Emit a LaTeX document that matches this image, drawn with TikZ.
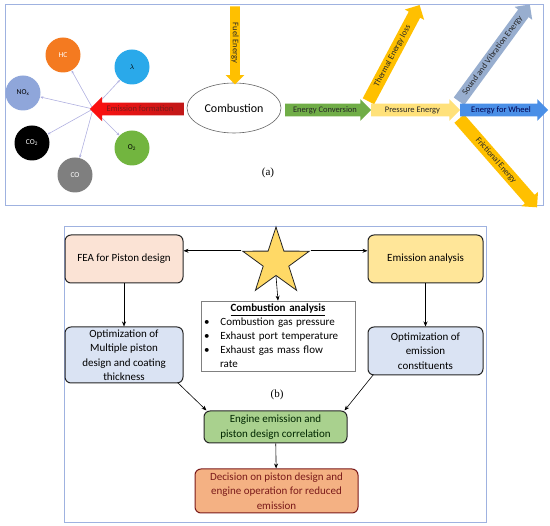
\documentclass[tikz,border=0pt]{standalone}
\usepackage{fontspec}
\setmainfont{Carlito}
\newfontfamily\capfont{Liberation Serif}
\usepackage{xcolor}
\definecolor{cFrame}{HTML}{9FB2E0}
\definecolor{cGold}{HTML}{FFC000}
\definecolor{cLight}{HTML}{FFE17A}
\definecolor{cGreen}{HTML}{70AD47}
\definecolor{cWheel}{HTML}{4A8FE7}
\definecolor{cSound}{HTML}{98AECF}
\definecolor{cRed}{HTML}{FF1010}
\definecolor{cDarkRed}{HTML}{C01818}
\definecolor{cHC}{HTML}{F47A20}
\definecolor{cLam}{HTML}{2AA9EA}
\definecolor{cNOx}{HTML}{8FA6DA}
\definecolor{cCO}{HTML}{7F7F7F}
\definecolor{cOtwo}{HTML}{72B53F}
\definecolor{cLink}{HTML}{B0B0E0}
\definecolor{cPeach}{HTML}{FBE3D5}
\definecolor{cYellow}{HTML}{FFE699}
\definecolor{cBlue}{HTML}{DAE3F3}
\definecolor{cMint}{HTML}{A9D18E}
\definecolor{cOrange}{HTML}{F4B183}
\definecolor{cStar}{HTML}{FFD966}
\definecolor{cBrown}{HTML}{7A1A1A}
\usepackage{tikz}
\usetikzlibrary{positioning,arrows.meta,shapes.geometric,shapes.arrows,calc}
\tikzset{
  node-box/.style={draw=black!85,line width=1pt,rounded corners=6pt,
    align=center,font=\fontsize{11}{14.5}\selectfont,inner sep=2pt},
  node-gas/.style={circle,minimum size=35pt,inner sep=0pt,
    font=\fontsize{7.5}{8}\selectfont},
  arrow-flow/.style={single arrow,single arrow head extend=4.5pt,
    inner xsep=2pt,inner ysep=2.5pt,text height=6pt,text depth=1.5pt,
    font=\fontsize{8.5}{9}\selectfont,text=black!85},
  arrow/.style={-{Stealth[length=5pt,width=4pt]},line width=0.6pt,draw=black},
  arrow-link/.style={-{Stealth[length=3pt,width=2.5pt]},line width=0.6pt,draw=cLink},
  frame/.style={draw=cFrame,line width=0.8pt},
}

\begin{document}
\begin{tikzpicture}[x=1pt,y=-1pt]
  \useasboundingbox (0,0) rectangle (550,526);

  % (a) energy and emission paths
  \draw[frame] (5,4) rectangle (543,205);
  \node[node-gas,fill=cHC,text=white]   (hc)    at (63,55)  {HC};
  \node[node-gas,fill=cLam]             (lam)   at (132,67) {$\lambda$};
  \node[node-gas,fill=cNOx]             (nox)   at (23,93)  {NO\textsubscript{x}};
  \node[node-gas,fill=black,text=white] (cotwo) at (32,143) {CO\textsubscript{2}};
  \node[node-gas,fill=cCO,text=white]   (co)    at (75,175) {CO};
  \node[node-gas,fill=cOtwo]            (otwo)  at (132,148) {O\textsubscript{2}};
  \coordinate (hub) at (93,109);
  \foreach \g in {hc,lam,nox,cotwo,co,otwo}
    \draw[arrow-link] (hub) -- (\g);

  \node[ellipse,draw=black!60,line width=0.6pt,fill=white,minimum width=94pt,
    minimum height=50pt,font=\fontsize{12}{14}\selectfont] (burn) at (234,108) {Combustion};
  \node[arrow-flow,fill=cGold,rotate=-90,minimum height=78pt,inner ysep=1pt] (fuel) at (235,43) {Fuel Energy};
  \node[arrow-flow,shape border rotate=180,left color=cRed,right color=cDarkRed,
    minimum height=94pt,single arrow head extend=6pt,text=cBrown] (emform) at (140,109) {Emission formation};

  \node[arrow-flow,fill=cGold,rotate=62,minimum height=109pt] (thermal) at (392.5,56) {Thermal Energy loss};
  \node[arrow-flow,fill=cSound,rotate=53.8,minimum height=120pt] (sound) at (492.5,55.5) {Sound and Vibration Energy};
  \node[arrow-flow,fill=cGold,rotate=-48.8,minimum height=118pt] (friction) at (496,160.5) {Frictional Energy};
  \node[arrow-flow,fill=cGreen,minimum height=86pt] (conv) at (325,110) {Energy Conversion};
  \node[arrow-flow,fill=cLight,minimum height=89pt] (press) at (412.5,110) {Pressure Energy};
  \node[arrow-flow,fill=cWheel,minimum height=88pt,text=blue!30!black] (wheel) at (501,110) {Energy for Wheel};
  \node[font=\capfont\fontsize{11}{12}\selectfont] (capa) at (268,173) {(a)};

  % (b) piston / emission workflow
  \draw[frame] (64,226) rectangle (486,522);
  \node[node-box,fill=cPeach,minimum width=118pt,minimum height=48pt] (fea) at (124,259) {FEA for Piston design};
  \node[node-box,fill=cYellow,minimum width=115pt,minimum height=48pt] (emi) at (425.5,259) {Emission analysis};
  \node[star,star points=5,star point ratio=2.6,minimum size=70pt,inner sep=0pt,
    draw=black!85,line width=0.8pt,fill=cStar] (star) at (276,262) {};
  \node[draw=black!50,line width=0.8pt,fill=white,text width=148pt,inner sep=3pt,
    font=\fontsize{11}{14}\selectfont] (combana) at (278,336)
    {{\centering\textbf{\underline{Combustion analysis}}\par}
     \raggedright
     \textbullet\hspace{1em}Combustion gas pressure\\
     \textbullet\hspace{1em}Exhaust port temperature\\
     \textbullet\hspace{1em}\makebox[126pt][s]{Exhaust gas mass flow}\\
     \hspace*{16pt}rate};
  \node[node-box,fill=cBlue,minimum width=118pt,minimum height=56pt] (optp) at (124,355)
    {Optimization of\\Multiple piston\\design and coating\\thickness};
  \node[node-box,fill=cBlue,minimum width=115pt,minimum height=48pt] (opte) at (425.5,351)
    {Optimization of\\emission\\constituents};
  \node[font=\capfont\fontsize{11}{12}\selectfont] (capb) at (277,395) {(b)};
  \node[node-box,fill=cMint,minimum width=143pt,minimum height=32pt,text=black!75!green!60!black] (corr) at (275.5,427)
    {Engine emission and\\piston design correlation};
  \node[node-box,fill=cOrange,draw=cBrown,minimum width=163pt,minimum height=44pt,text=cBrown] (dec) at (276.5,491)
    {Decision on piston design and\\engine operation for reduced\\emission};

  \draw[arrow] (star.outer point 2) -- (star.outer point 2 -| fea.east);
  \draw[arrow] (star.outer point 5) -- (star.outer point 5 -| emi.west);
  \draw[arrow] (star.inner point 3) -- (combana.north);
  \draw[arrow] (fea) -- (optp);
  \draw[arrow] (emi) -- (opte);
  \draw[arrow] ($(optp.south east)+(-6,-1)$) -- ($(corr.north west)+(3,0)$);
  \draw[arrow] ($(opte.south west)+(6,-1)$) -- ($(corr.north east)+(-3,0)$);
  \draw[arrow] (corr) -- (dec);
\end{tikzpicture}
\end{document}
